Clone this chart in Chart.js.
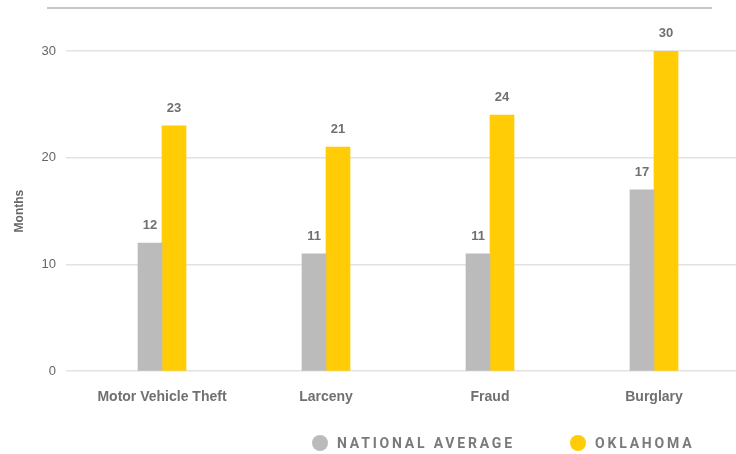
<!DOCTYPE html>
<html>
<head>
<meta charset="utf-8">
<script src="https://cdn.jsdelivr.net/npm/chart.js@4/dist/chart.umd.min.js"></script>
<style>
  html, body { margin: 0; padding: 0; background: #fff; }
  #wrap { position: relative; width: 736px; height: 454px; }
  #legend {
    position: absolute; left: 0; top: 435px; width: 736px; height: 22px;
    font-family: Roboto, "Liberation Sans", sans-serif; font-weight: 700;
    font-size: 14px; letter-spacing: 2.8px; color: #7a7a7a;
  }
  .item { position: absolute; top: 0; display: flex; align-items: center; }
  .dot { width: 16px; height: 16px; border-radius: 50%; margin-right: 9px; }
</style>
</head>
<body>
<div id="wrap">
  <canvas id="crimeChart" width="736" height="454"></canvas>
  <div id="legend"></div>
</div>
<script>
const categories = ['Motor Vehicle Theft', 'Larceny', 'Fraud', 'Burglary'];
const nationalAverage = [12, 11, 11, 17];
const oklahoma = [23, 21, 24, 30];
const yTicks = [0, 10, 20, 30];

const seriesNames = ['NATIONAL AVERAGE', 'OKLAHOMA'];
const seriesColors = ['#bbbbbb', '#ffcc05'];
const legendLeft = [312, 570];

// value labels above each bar
const valueLabels = {
    id: 'valueLabels',
    afterDatasetsDraw(chart) {
        const ctx = chart.ctx;
        ctx.save();
        ctx.font = '700 13px "Liberation Sans", Arial, sans-serif';
        ctx.fillStyle = '#707070';
        ctx.textAlign = 'center';
        ctx.textBaseline = 'bottom';
        chart.data.datasets.forEach((ds, i) => {
            chart.getDatasetMeta(i).data.forEach((bar, j) => {
                ctx.fillText(ds.data[j], bar.x, bar.y - 11);
            });
        });
        ctx.restore();
    }
};

// thin rule across the top of the chart
const topRule = {
    id: 'topRule',
    beforeDraw(chart) {
        const ctx = chart.ctx;
        ctx.save();
        ctx.strokeStyle = '#c8c8c8';
        ctx.lineWidth = 2;
        ctx.beginPath();
        ctx.moveTo(47, 8);
        ctx.lineTo(712, 8);
        ctx.stroke();
        ctx.restore();
    }
};

const ctx = document.getElementById('crimeChart').getContext('2d');
const chart = new Chart(ctx, {
    type: 'bar',
    data: {
        labels: categories,
        datasets: [
            { label: seriesNames[0], data: nationalAverage, backgroundColor: seriesColors[0], barThickness: 24 },
            { label: seriesNames[1], data: oklahoma, backgroundColor: seriesColors[1], barThickness: 24 }
        ]
    },
    options: {
        responsive: false,
        animation: false,
        layout: { padding: { top: 51, right: 0, bottom: 38, left: 0 } },
        plugins: {
            legend: { display: false },
            tooltip: { enabled: false }
        },
        scales: {
            x: {
                grid: { display: false },
                border: { display: false },
                ticks: {
                    padding: 10,
                    color: '#707070',
                    font: { family: '"Liberation Sans", Arial, sans-serif', size: 14, weight: 700 }
                }
            },
            y: {
                min: 0,
                max: 30,
                afterBuildTicks: (s) => { s.ticks = yTicks.map(v => ({ value: v })); },
                afterFit: (s) => { s.width = 80; },
                grid: { color: '#e2e2e2', lineWidth: 1.5, tickLength: 14 },
                border: { display: false },
                ticks: {
                    padding: 10,
                    color: '#666666',
                    font: { family: '"Liberation Sans", Arial, sans-serif', size: 13 }
                },
                title: {
                    display: true,
                    text: 'Months',
                    color: '#666666',
                    padding: { top: 12, bottom: 0 },
                    font: { family: '"Liberation Sans", Arial, sans-serif', size: 12, weight: 700 }
                }
            }
        }
    },
    plugins: [valueLabels, topRule]
});

// custom legend
const legend = document.getElementById('legend');
seriesNames.forEach((name, i) => {
    const item = document.createElement('div');
    item.className = 'item';
    item.style.left = legendLeft[i] + 'px';
    item.innerHTML = '<span class="dot" style="background:' + seriesColors[i] + '"></span><span>' + name + '</span>';
    legend.appendChild(item);
});
</script>
</body>
</html>
